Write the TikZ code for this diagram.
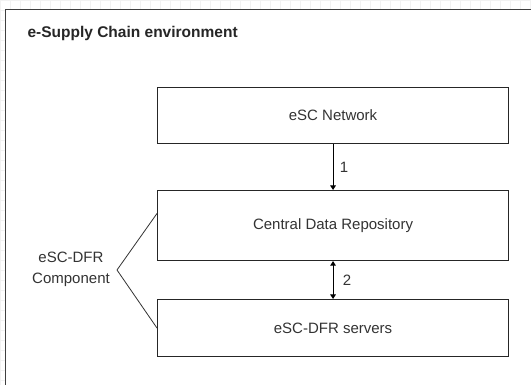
\documentclass[tikz,border=0pt]{standalone}
\usepackage{fontspec}
\setmainfont{Liberation Sans}
\usetikzlibrary{arrows.meta,calc}

\begin{document}
\begin{tikzpicture}[x=1pt,y=-1pt,
  every node/.style={font=\fontsize{15}{18}\selectfont, text=black!80},
  block/.style={draw=black!85, line width=1.1pt, fill=white, minimum width=351pt, anchor=north west, inner sep=0pt},
  link/.style={line width=1pt, draw=black},
  >={Triangle[width=5.5pt,length=4.5pt]},
  brace/.style={line width=0.8pt, draw=black!80}
]
\useasboundingbox (0,0) rectangle (531,385);
\clip (0,0) rectangle (531,385);

% faint background grid
\draw[black!5, line width=0.4pt] (0,0) grid[step=10pt] (540,390);

% environment frame
\draw[black!75, line width=0.9pt, fill=white] (5.5,9) rectangle (545,400);
\node[anchor=west, font=\fontsize{15.5}{18}\selectfont\bfseries, text=black!85] (title) at (24,33) {e-Supply Chain environment};

% components
\node[block, minimum height=56pt] (net) at (157,87) {eSC Network};
\node[block, minimum height=70pt] (cdr) at (157,190) {Central Data Repository};
\node[block, minimum height=57pt] (srv) at (157,299) {eSC-DFR servers};

% data flows
\draw[link, ->] (net.south) -- node[right=3pt] (l1) {1} (cdr.north);
\draw[link, <->] (cdr.south) -- node[right=6pt] (l2) {2} (srv.north);

% component grouping
\coordinate (apex) at (117,270);
\coordinate (topend) at ($(cdr.south west)!0.67!(cdr.north west)$);
\draw[brace] (topend) -- (apex) -- (srv.west);
\node[align=center, inner sep=0pt] (grp) at (71,269.5) {eSC-DFR\\[2.5pt]Component};
\end{tikzpicture}
\end{document}
